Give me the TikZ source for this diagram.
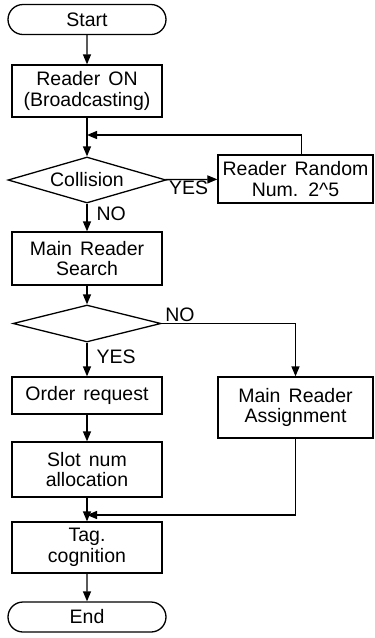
\documentclass[tikz,border=0pt]{standalone}
\usepackage{fontspec}
\setmainfont{Liberation Sans}[WordSpace=1.5]
\usetikzlibrary{shapes.geometric, shapes.misc, arrows.meta}

\begin{document}
\begin{tikzpicture}[
		x=1pt, y=-1pt,
		every node/.style={font=\fontsize{19.5}{20.5}\selectfont, align=center},
		terminal/.style={rounded rectangle, draw, line width=1.3pt, minimum width=158pt, minimum height=30pt, inner sep=0pt},
		process/.style={rectangle, draw, line width=1.3pt, minimum width=150pt, inner sep=0pt},
		decision/.style={diamond, draw, line width=1.3pt, aspect=3.4, inner sep=0pt},
		flow/.style={line width=1.3pt, -{Triangle[length=10pt, width=8pt]}},
		answer/.style={inner sep=1pt}
	]
  \useasboundingbox (0, 0) rectangle (375, 638);
  \node (start) [terminal] at (87, 19.5) {Start};
  \node (reader_on) [process, minimum height=52pt] at (87, 91) {Reader ON\\(Broadcasting)};
  \node (collision) [decision, minimum width=158pt, minimum height=46pt] at (87, 180) {Collision};
  \node (random) [process, minimum width=155pt, minimum height=48pt] at (295.5, 179) {Reader Random\\Num. 2\textasciicircum 5};
  \node (search) [process, minimum height=53pt] at (87, 258.5) {Main Reader\\Search};
  \node (found) [decision, minimum width=148pt, minimum height=37pt] at (87, 323.5) {};
  \node (order) [process, minimum height=37pt] at (87, 395.5) {Order request};
  \node (assign) [process, minimum width=155pt, minimum height=61pt] at (295.5, 407.5) {Main Reader\\Assignment};
  \node (slot) [process, minimum height=55pt] at (87, 469.5) {Slot num\\allocation};
  \node (tag) [process, minimum height=51pt] at (87, 547.5) {Tag.\\cognition};
  \node (end) [terminal] at (87, 617) {End};
  \coordinate (loop_in) at (87, 135);
  \coordinate (merge_in) at (87, 515);
  \draw [flow] (start) -- (reader_on);
  \draw [flow] (reader_on) -- (collision);
  \draw [flow] (collision) -- node [answer, anchor=north west, pos=0, xshift=2pt] {YES} (random);
  \draw [flow] ([xshift=6pt]random.north) |- (loop_in);
  \draw [flow] (collision) -- node [answer, anchor=west, xshift=8pt, pos=0.35] {NO} (search);
  \draw [flow] (search) -- (found);
  \draw [flow] (found) -- node [answer, anchor=west, xshift=8pt, pos=0.43] {YES} (order);
  \draw [flow] (found.east) -| node [answer, anchor=south west, pos=0, xshift=2pt] {NO} (assign.north);
  \draw [flow] (order) -- (slot);
  \draw [flow] (slot) -- (tag);
  \draw [flow] (assign.south) |- (merge_in);
  \draw [flow] (tag) -- (end);
\end{tikzpicture}
\end{document}
